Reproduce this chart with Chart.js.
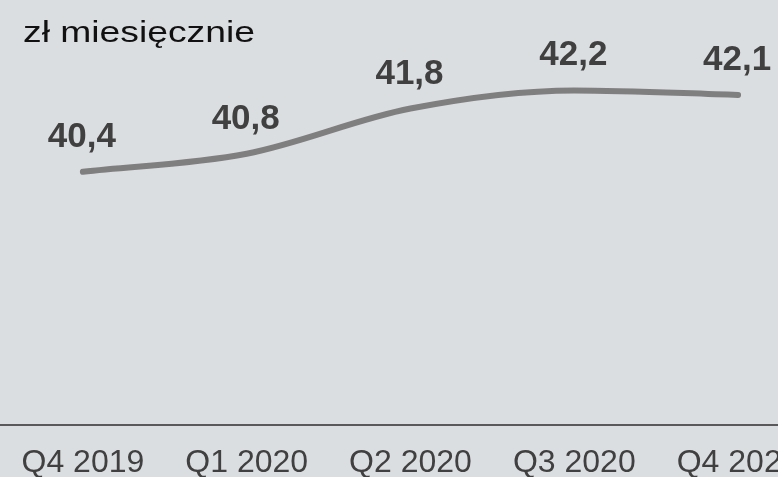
<!DOCTYPE html>
<html>
<head>
<meta charset="utf-8">
<script src="https://cdn.jsdelivr.net/npm/chart.js@4"></script>
<style>
  html, body { margin: 0; padding: 0; overflow: hidden; background: #dbdee1; }
  #wrap { position: relative; width: 825px; height: 477px; }
  canvas { display: block; }
</style>
</head>
<body>
<div id="wrap"><canvas id="c" width="825" height="477"></canvas></div>
<script>
// Quarterly average, PLN per month
const quarters = ['Q4 2019', 'Q1 2020', 'Q2 2020', 'Q3 2020', 'Q4 2020'];
const monthlyValues = [40.4, 40.8, 41.8, 42.2, 42.1];
const unitTitle = 'zł miesięcznie';

const FONT = '"Liberation Sans", Arial, sans-serif';
const fmt = v => v.toFixed(1).replace('.', ',');

// Value labels above each point, plus the unit caption in the corner
const labelsPlugin = {
  id: 'valueLabels',
  afterDatasetsDraw(chart) {
    const ctx = chart.ctx;
    const meta = chart.getDatasetMeta(0);
    ctx.save();
    ctx.fillStyle = '#404040';
    ctx.font = 'bold 35px ' + FONT;
    ctx.textAlign = 'center';
    ctx.textBaseline = 'alphabetic';
    meta.data.forEach((pt, i) => {
      ctx.fillText(fmt(chart.data.datasets[0].data[i]), pt.x - 1, pt.y - 25);
    });
    // unit caption
    ctx.font = '29px ' + FONT;
    ctx.fillStyle = '#111111';
    ctx.textAlign = 'left';
    const w = ctx.measureText(unitTitle).width;
    ctx.translate(23, 42);
    ctx.scale(232 / w, 1);
    ctx.fillText(unitTitle, 0, 0);
    ctx.restore();
  }
};

new Chart(document.getElementById('c'), {
  type: 'line',
  data: {
    labels: quarters,
    datasets: [{
      data: monthlyValues,
      borderColor: '#7f7f7f',
      borderWidth: 6,
      borderCapStyle: 'round',
      cubicInterpolationMode: 'monotone',
      pointRadius: 0,
      pointHoverRadius: 0,
      fill: false
    }]
  },
  options: {
    responsive: false,
    animation: false,
    devicePixelRatio: 1,
    layout: { padding: { left: 1, right: 5, top: 0, bottom: 0 } },
    plugins: { legend: { display: false }, tooltip: { enabled: false } },
    scales: {
      x: {
        offset: true,
        grid: { display: false, drawTicks: false },
        border: { display: true, color: '#595959', width: 2 },
        ticks: { color: '#404040', font: { family: FONT, size: 32 }, padding: 19, maxRotation: 0, autoSkip: false },
        afterFit(scale) { scale.height = 52; }
      },
      y: {
        display: false,
        min: 34.8,
        max: 44.2
      }
    }
  },
  plugins: [labelsPlugin]
});
</script>
</body>
</html>
